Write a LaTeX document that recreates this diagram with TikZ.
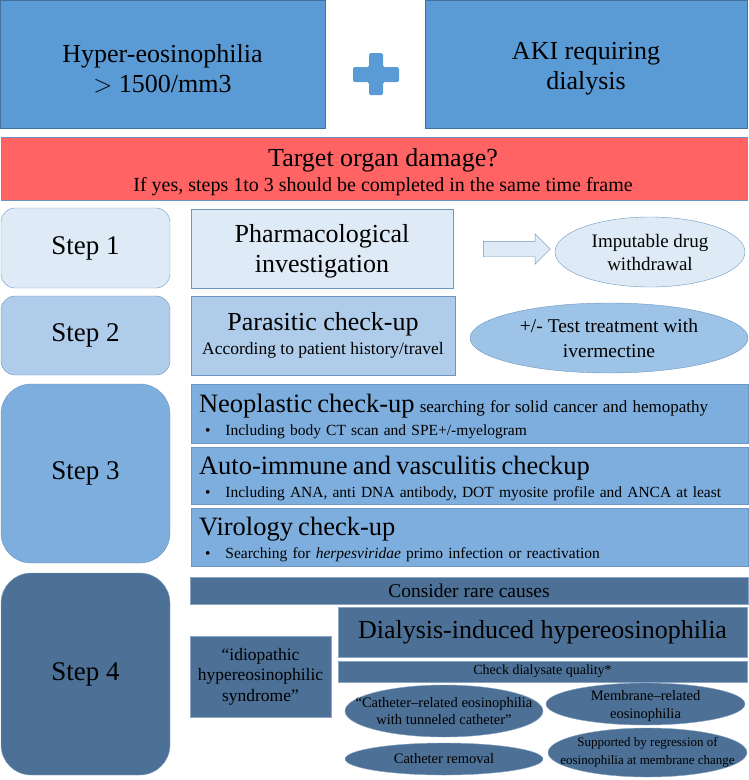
\documentclass[tikz,border=0pt]{standalone}
\usepackage{fontspec}
\setmainfont{Liberation Serif}
\usetikzlibrary{shapes.geometric, shapes.arrows}

\definecolor{topblue}{HTML}{5B9BD5}
\definecolor{topedge}{HTML}{41719C}
\definecolor{alarm}{HTML}{FF6363}
\definecolor{edgeblue}{HTML}{6E95C0}
\definecolor{stepA}{HTML}{DEEBF7}
\definecolor{stepB}{HTML}{AFCDEA}
\definecolor{ovalB}{HTML}{9DC3E6}
\definecolor{stepC}{HTML}{7EAEDD}
\definecolor{stepD}{HTML}{4C7096}
\definecolor{stepDedge}{HTML}{8CA6C2}

\newcommand{\fs}[2]{\fontsize{#1}{#2}\selectfont}
\newcommand{\bul}{\hspace*{6pt}\textbullet\hspace{15pt}}

\begin{document}
\begin{tikzpicture}[x=1pt, y=-1pt, rect/.style={rectangle, draw=edgeblue, fill=#1, inner sep=0, align=center}, rect/.default=stepA, stepbox/.style={rectangle, rounded corners=#1, draw=edgeblue, inner sep=0, minimum width=169, font=\fs{27}{30}}, stepbox/.default=14, oval/.style={ellipse, draw=edgeblue, fill=#1, inner sep=0, align=center}, darkrect/.style={rect=stepD, draw=stepDedge}, darkoval/.style={oval=stepD, draw=stepDedge}, ovaltext/.style={font=\fs{#1}{17.5}, align=center}, ovaltext/.default=14.5, checkup/.style={rect=stepC, inner xsep=8, text width=541, text height=24pt, align=left, font=\fs{15.5}{23}}]

\useasboundingbox (0,0) rectangle (749,780);

% top row
\node [rect=topblue, draw=topedge, minimum width=325, minimum height=128, text height=57pt, font=\fs{26}{30}] (HE) at (162.5, 64) {Hyper-eosinophilia\\ $>$ 1500/mm3};
\node [rect=topblue, draw=topedge, minimum width=322, minimum height=128, text height=57pt, font=\fs{26}{30}] (AKI) at (586, 64) {AKI requiring\\dialysis};
\fill[topblue, rounded corners=1.5] (369,53) -- (383,53) -- (383,67) -- (399,67) -- (399,82) -- (383,82) -- (383,95) -- (369,95) -- (369,82) -- (353,82) -- (353,67) -- (369,67) -- cycle;

\node [rect=alarm, minimum width=746, minimum height=63, text height=50.5pt, font=\fs{20}{25}] (TOD) at (374, 168.5) {\hspace*{18pt}{\fs{26}{25}Target organ damage?}\\\hspace*{18pt}If yes, steps 1to 3 should be completed in the same time frame};

% steps
\node [stepbox, fill=stepA, minimum height=80] (S1) at (85.5, 248) {Step 1};
\node [stepbox, fill=stepB, minimum height=79] (S2) at (85.5, 335.5) {Step 2};
\node [stepbox=30, fill=stepC, minimum height=179] (S3) at (85.5, 473.5) {Step 3};
\node [stepbox=30, fill=stepD, draw=stepDedge, minimum height=202] (S4) at (85.5, 674) {Step 4};

% step 1
\node [rect, minimum width=262, minimum height=79, text height=54.5pt, font=\fs{26}{30}] (PH) at (322, 248.5) {Pharmacological\\investigation};
\node [single arrow, draw=edgeblue, fill=stepA, inner sep=0, inner ysep=7.5, minimum height=67, single arrow head extend=7.5] (ARR) at (513, 249) {};
\node [oval=stepA, minimum width=190, minimum height=70, font=\fs{19}{23}] (IDW) at (650, 252) {Imputable drug\\withdrawal};

% step 2
\node [rect=stepB, minimum width=264, minimum height=79, font=\fs{17.5}{24}] (PAR) at (323, 335.5) {{\fs{26}{24}Parasitic check-up}\\According to patient history/travel};
\node [oval=ovalB, minimum width=278, minimum height=70, font=\fs{19.5}{25}] (IVM) at (609, 338) {+/- Test treatment with\\ivermectine};

% step 3
\node [checkup, minimum height=59] (NEO) at (469.5, 413.5) {{\fs{26.5}{23}Neoplastic check-up} {\fs{17}{23}searching for solid cancer and hemopathy}\\\bul Including body CT scan and SPE+/-myelogram};
\node [checkup, minimum height=57] (AIV) at (469.5, 475.5) {{\fs{26.5}{23}Auto-immune and vasculitis checkup}\\\bul Including ANA, anti DNA antibody, DOT myosite profile and ANCA at least};
\node [checkup, minimum height=58] (VIR) at (469.5, 537) {{\fs{26.5}{23}Virology check-up}\\\bul Searching for \textit{herpesviridae} primo infection or reactivation};

% step 4
\node [darkrect, minimum width=558, minimum height=27, font=\fs{19.5}{22}] (RARE) at (469, 590.5) {Consider rare causes};
\node [darkrect, minimum width=409, minimum height=50, font=\fs{26}{30}] (DIH) at (542.5, 632) {Dialysis-induced hypereosinophilia};
\node [darkrect, minimum width=409, minimum height=21, font=\fs{14}{16}] (DQ) at (542.5, 671.5) {Check dialysate quality*};
\node [darkrect, minimum width=141, minimum height=81, font=\fs{17.5}{20.5}] (IHS) at (260.5, 676.5) {``idiopathic\\hypereosinophilic\\syndrome''};
\node [darkoval, minimum width=198, minimum height=52, label={[ovaltext]center:``Catheter--related eosinophilia\\with tunneled catheter''}] (CAT) at (444, 711) {};
\node [darkoval, minimum width=199, minimum height=42, label={[ovaltext, yshift=-2]center:Membrane--related\\eosinophilia}] (MEM) at (645.5, 704) {};
\node [darkoval, minimum width=198, minimum height=32, label={[ovaltext]center:Catheter removal}] (CRM) at (444, 759) {};
\node [darkoval, minimum width=199, minimum height=49, label={[ovaltext=13]center:Supported by regression of\\eosinophilia at membrane change}] (SUP) at (647.5, 752.5) {};

\end{tikzpicture}
\end{document}
